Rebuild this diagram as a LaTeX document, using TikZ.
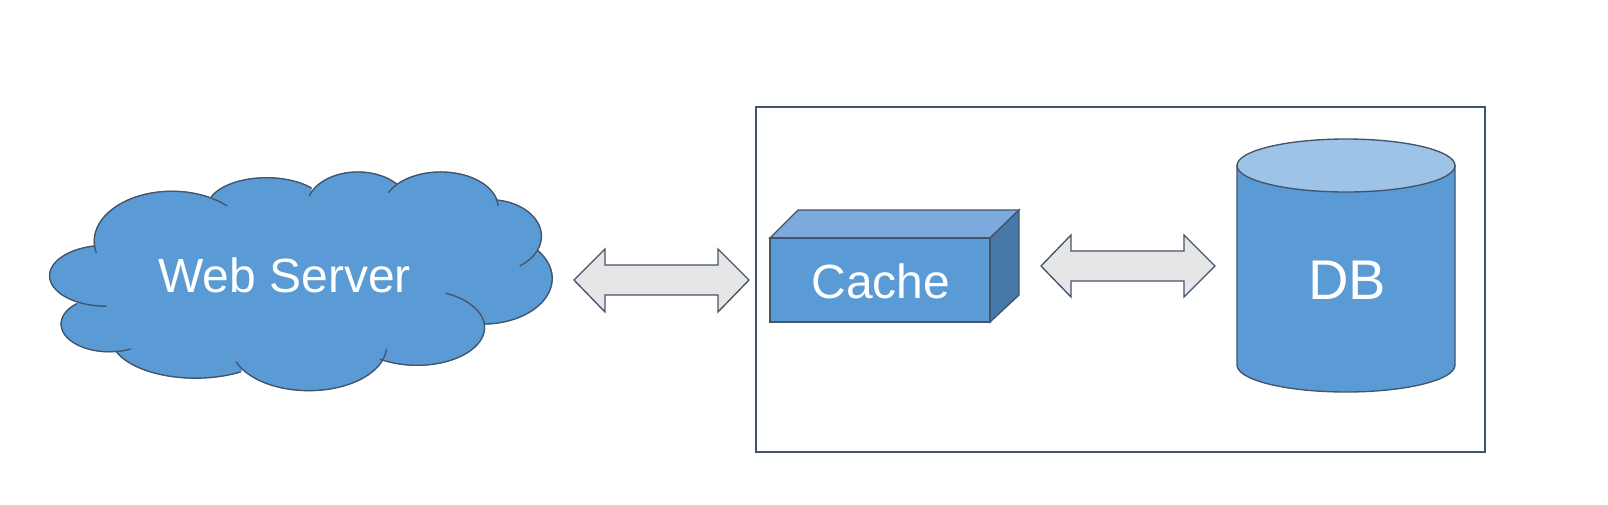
\documentclass[tikz,border=0pt]{standalone}
\usepackage{fontspec}
\setmainfont{Liberation Sans}
\definecolor{fillblue}{HTML}{5B9BD5}
\definecolor{edge}{HTML}{44546A}
\definecolor{toplight}{HTML}{7CAADC}
\definecolor{sidedark}{HTML}{4678A8}
\definecolor{dbtop}{HTML}{9DC3E6}
\definecolor{arrowgrey}{HTML}{E7E6E6}
\tikzset{
  line/.style={draw=edge,line width=1.35pt,line join=miter},
  label/.style={text=white,inner sep=0pt,anchor=base},
  blockarrow/.style={line,fill=arrowgrey}
}
\newcommand{\cloudlobes}[2]{%
  \foreach \cx/\cy/\rx/\ry/\ta/\tb in {
    420/270/230/148/167/315,
    700/170/175/88/200/319,
    970/165/150/100/197/321,
    1215/170/170/105/205/357,
    1360/255/153/108/277/414,
    1340/380/205/135/322/448,
    1145/525/200/112/295/483,
    825/580/230/132/4/159,
    490/555/250/120/58/159,
    235/515/143/82/64/227,
    225/372/167/90/90/258}{
    #1 plot[domain=\ta:\tb,samples=40,variable=\t,smooth] ({\cx+\rx*cos(\t)},{\cy+\ry*sin(\t)}) #2;
  }%
}
\begin{document}
\begin{tikzpicture}[x=1pt,y=-1pt]
\useasboundingbox (0,0) rectangle (1608,504);
% outer box
\draw[line] (756,107) rectangle (1485,452);
% cloud
\begin{scope}[shift={(30,150)},x=0.338pt,y=-0.338pt]
  \cloudlobes{\filldraw[fill=fillblue,draw=fillblue,line width=1pt,line join=round]}{-- (800,380) -- cycle}
  \cloudlobes{\draw[line,line cap=round]}{}
\end{scope}
\node[label,font=\fontsize{48}{50}\selectfont] (web) at (284.5,292) {Web Server};
% arrow 1
\draw[blockarrow] (574,280)--(605,249)--(605,265)--(718,265)--(718,249)--(749,280)--(718,312)--(718,295)--(605,295)--(605,312)--cycle;
% cache
\draw[line,fill=toplight] (770,238)--(798,210)--(1019,210)--(990,238)--cycle;
\draw[line,fill=sidedark] (990,238)--(1019,210)--(1019,295)--(990,322)--cycle;
\draw[line,fill=fillblue] (770,238) rectangle (990,322);
\node[label,font=\fontsize{48}{50}\selectfont] (cache) at (881,298) {Cache};
% arrow 2
\draw[blockarrow] (1041,266)--(1071,235)--(1071,251)--(1184,251)--(1184,235)--(1215,266)--(1184,297)--(1184,281)--(1071,281)--(1071,297)--cycle;
% database
\draw[line,fill=fillblue] (1237,165.5)--(1237,365) arc[start angle=180,end angle=0,x radius=109,y radius=27]--(1455,165.5)--cycle;
\draw[line,fill=dbtop] (1346,165.5) ellipse[x radius=109,y radius=26.5];
\node[label,font=\fontsize{56}{60}\selectfont] (db) at (1347,299) {DB};
\end{tikzpicture}
\end{document}
